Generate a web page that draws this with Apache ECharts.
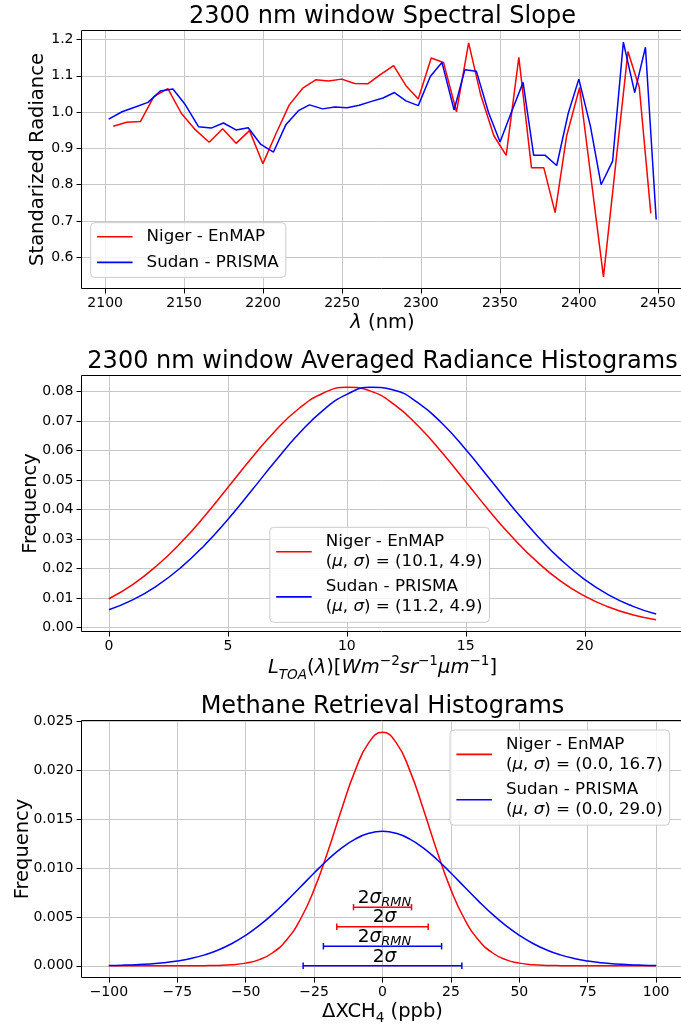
<!DOCTYPE html>
<html><head><meta charset="utf-8">
<script src="https://cdn.jsdelivr.net/npm/echarts@6/dist/echarts.min.js"></script>
<style>html,body{margin:0;padding:0;background:#fff}#c{width:681px;height:1027px}</style>
</head><body><div id="c"></div>
<script>
// ---------- Panel 1: spectral slope ----------
const nigerWl = [2105.1, 2113.6, 2122.3, 2130.8, 2139.7, 2148.2, 2157.2, 2165.9, 2174.4, 2182.9, 2191.4, 2199.9, 2208.3, 2216.6, 2225.1, 2233.3, 2241.5, 2249.8, 2258.0, 2266.3, 2274.5, 2282.7, 2290.5, 2298.3, 2306.5, 2314.3, 2322.5, 2330.2, 2338.0, 2346.2, 2354.0, 2362.0, 2370.0, 2377.8, 2385.0, 2392.3, 2400.5, 2415.6, 2431.1, 2438.3, 2445.6];
const nigerSlope = [0.961, 0.972, 0.974, 1.043, 1.065, 0.997, 0.951, 0.917, 0.954, 0.914, 0.949, 0.858, 0.942, 1.020, 1.066, 1.089, 1.086, 1.091, 1.079, 1.078, 1.104, 1.128, 1.073, 1.036, 1.149, 1.137, 1.001, 1.191, 1.045, 0.935, 0.881, 1.151, 0.847, 0.847, 0.723, 0.935, 1.068, 0.546, 1.167, 1.068, 0.721];
const sudanWl = [2102.2, 2110.7, 2119.1, 2127.1, 2134.9, 2142.9, 2150.7, 2159.1, 2167.1, 2174.9, 2182.9, 2190.6, 2198.6, 2206.6, 2214.4, 2222.4, 2229.4, 2237.7, 2245.4, 2253.2, 2260.9, 2268.2, 2276.0, 2283.2, 2290.5, 2298.3, 2306.0, 2313.3, 2321.0, 2327.8, 2335.1, 2342.8, 2350.1, 2357.4, 2364.7, 2371.4, 2378.7, 2386.0, 2393.3, 2400.0, 2407.3, 2414.1, 2421.4, 2428.2, 2435.4, 2442.2, 2449.0];
const sudanSlope = [0.981, 1.001, 1.014, 1.027, 1.058, 1.064, 1.021, 0.960, 0.956, 0.970, 0.951, 0.957, 0.911, 0.890, 0.965, 1.004, 1.020, 1.009, 1.014, 1.012, 1.019, 1.029, 1.039, 1.054, 1.031, 1.018, 1.099, 1.137, 1.006, 1.117, 1.113, 0.999, 0.918, 1.001, 1.082, 0.881, 0.881, 0.853, 0.997, 1.091, 0.962, 0.800, 0.865, 1.193, 1.054, 1.179, 0.704];
const slopeXTicks = [2100, 2150, 2200, 2250, 2300, 2350, 2400, 2450];
const slopeYTicks = [0.6, 0.7, 0.8, 0.9, 1.0, 1.1, 1.2];

// ---------- Panel 2: averaged radiance histograms ----------
const radX = [0, 1, 2, 3, 4, 5, 6, 7, 8, 9, 10, 11, 12, 13, 14, 15, 16, 17, 18, 19, 20, 21, 22, 23];
const radNiger = [0.0097, 0.0145, 0.0208, 0.0285, 0.0375, 0.0474, 0.0574, 0.0667, 0.0743, 0.0794, 0.0814, 0.0801, 0.0755, 0.0683, 0.0593, 0.0494, 0.0394, 0.0302, 0.0222, 0.0156, 0.0106, 0.0069, 0.0043, 0.0026];
const radSudan = [0.0060, 0.0093, 0.0140, 0.0201, 0.0277, 0.0366, 0.0464, 0.0564, 0.0658, 0.0736, 0.0790, 0.0814, 0.0804, 0.0761, 0.0692, 0.0603, 0.0504, 0.0404, 0.0311, 0.0229, 0.0162, 0.0110, 0.0072, 0.0045];
const radXTicks = [0, 5, 10, 15, 20];
const radYTicks = [0, 0.01, 0.02, 0.03, 0.04, 0.05, 0.06, 0.07, 0.08];

// ---------- Panel 3: methane retrieval histograms ----------
const ch4X = [-100, -95, -90, -85, -80, -75, -70, -65, -60, -55, -50, -45, -40, -35, -30, -25, -20, -15, -10, -5, 0, 5, 10, 15, 20, 25, 30, 35, 40, 45, 50, 55, 60, 65, 70, 75, 80, 85, 90, 95, 100];
const ch4Niger = [0, 0, 0, 0, 0, 0.000001, 0.000004, 0.000012, 0.000038, 0.000105, 0.00027, 0.00063, 0.00136, 0.00266, 0.00476, 0.00779, 0.01166, 0.01596, 0.01997, 0.02284, 0.02389, 0.02284, 0.01997, 0.01596, 0.01166, 0.00779, 0.00476, 0.00266, 0.00136, 0.00063, 0.00027, 0.000105, 0.000038, 0.000012, 0.000004, 0.000001, 0, 0, 0, 0, 0];
const ch4Sudan = [0.000036, 0.000064, 0.000111, 0.000188, 0.000306, 0.000485, 0.000747, 0.001116, 0.001618, 0.002278, 0.003112, 0.004127, 0.005314, 0.006641, 0.008057, 0.009488, 0.010845, 0.012034, 0.012963, 0.013554, 0.013757, 0.013554, 0.012963, 0.012034, 0.010845, 0.009488, 0.008057, 0.006641, 0.005314, 0.004127, 0.003112, 0.002278, 0.001618, 0.001116, 0.000747, 0.000485, 0.000306, 0.000188, 0.000111, 0.000064, 0.000036];
const ch4XTicks = [-100, -75, -50, -25, 0, 25, 50, 75, 100];
const ch4YTicks = [0, 0.005, 0.010, 0.015, 0.020, 0.025];
const errLabels = ['2σ_RMN', '2σ', '2σ_RMN', '2σ'];
const errLow = [-10.6, -16.7, -21.6, -29.0];
const errHigh = [10.6, 16.7, 21.6, 29.0];
const errY = [0.006, 0.004, 0.002, 0.0];
const errSeriesColor = ['#ff0000', '#ff0000', '#0000ff', '#0000ff'];

// ---------- styling ----------
const FONT = 'DejaVu Sans';
const RED = '#ff0000', BLUE = '#0000ff';
const GRID_COLOR = '#c8c8c8';
const zip = (a, b) => a.map((v, i) => [v, b[i]]);

const legendNames = {
  sN: 'Niger - EnMAP',
  sS: 'Sudan - PRISMA',
  rN: '{t|Niger - EnMAP}\n{t|(}{i|μ}{t|, }{i|σ}{t|) = (10.1, 4.9)}',
  rS: '{t|Sudan - PRISMA}\n{t|(}{i|μ}{t|, }{i|σ}{t|) = (11.2, 4.9)}',
  mN: '{t|Niger - EnMAP}\n{t|(}{i|μ}{t|, }{i|σ}{t|) = (0.0, 16.7)}',
  mS: '{t|Sudan - PRISMA}\n{t|(}{i|μ}{t|, }{i|σ}{t|) = (0.0, 29.0)}'
};
const LEG_FS = 16.7;
const legRich = {
  t: {fontSize: LEG_FS, fontFamily: FONT, color: '#000', lineHeight: 20.4},
  i: {fontSize: LEG_FS, fontFamily: FONT, color: '#000', lineHeight: 20.4, fontStyle: 'italic'}
};
function legend(names, left, top, gap, lh) {
  return {
    data: names, orient: 'vertical', left: left, top: top,
    itemWidth: 35.5, itemHeight: 1.6, icon: 'rect', itemGap: gap,
    padding: [4, 7, 5, 6.4], selectedMode: false,
    backgroundColor: 'rgba(255,255,255,0.8)', borderColor: '#cccccc', borderWidth: 1, borderRadius: 4,
    formatter: n => legendNames[n],
    textStyle: {fontSize: LEG_FS, fontFamily: FONT, color: '#000', padding: [0, 0, 0, 9], lineHeight: lh, rich: legRich}
  };
}

const nameRich = {
  r: {fontSize: 19.5, fontFamily: FONT, color: '#000', lineHeight: 28},
  i: {fontSize: 19.5, fontFamily: FONT, color: '#000', lineHeight: 28, fontStyle: 'italic'},
  sup: {fontSize: 13.6, fontFamily: FONT, color: '#000', lineHeight: 13, verticalAlign: 'top'},
  sub: {fontSize: 13.6, fontFamily: FONT, color: '#000', lineHeight: 11, verticalAlign: 'bottom'},
  subi: {fontSize: 13.6, fontFamily: FONT, color: '#000', lineHeight: 11, verticalAlign: 'bottom', fontStyle: 'italic'}
};

function splitL() {
  return {show: true, lineStyle: {color: GRID_COLOR, width: 1}};
}
function xAx(grid, min, max, step, ticks, fmt, name, gap) {
  return {
    type: 'value', gridIndex: grid, min: min, max: max, minInterval: step, maxInterval: step,
    axisLine: {show: false, onZero: false},
    axisTick: {show: true, length: 5, customValues: ticks, lineStyle: {color: '#000', width: 1}},
    axisLabel: {customValues: ticks, fontSize: 14, fontFamily: FONT, color: '#000', margin: 8, formatter: fmt},
    splitLine: splitL(),
    name: name, nameLocation: 'middle', nameGap: gap,
    nameTextStyle: {fontSize: 19.5, fontFamily: FONT, color: '#000', rich: nameRich}
  };
}
function yAx(grid, min, max, step, ticks, fmt, name, gap) {
  return {
    type: 'value', gridIndex: grid, min: min, max: max, minInterval: step, maxInterval: step,
    axisLine: {show: false, onZero: false},
    axisTick: {show: true, length: 5, customValues: ticks, lineStyle: {color: '#000', width: 1}},
    axisLabel: {customValues: ticks, fontSize: 14, fontFamily: FONT, color: '#000', margin: 8, formatter: fmt},
    splitLine: splitL(),
    name: name, nameLocation: 'middle', nameGap: gap, nameMoveOverlap: false,
    nameTextStyle: {fontSize: 19.5, fontFamily: FONT, color: '#000'}
  };
}
const minus = v => (v < 0 ? '−' + Math.abs(v) : String(v));
const gridBase = {left: 81.5, width: 602, show: true, borderColor: '#000', borderWidth: 1, backgroundColor: 'transparent', outerBoundsMode: 'none', containLabel: false, z: 10};
const titleStyle = {fontSize: 24, fontWeight: 'normal', fontFamily: FONT, color: '#000'};
const AX_CX = 81.5 + 602 / 2;

const errRich = {
  n: {fontSize: 18.5, fontFamily: FONT, color: '#000', lineHeight: 22},
  i: {fontSize: 18.5, fontFamily: FONT, color: '#000', lineHeight: 22, fontStyle: 'italic'},
  sub: {fontSize: 13, fontFamily: FONT, color: '#000', lineHeight: 14, verticalAlign: 'bottom', fontStyle: 'italic'}
};
const errText = s => s === '2σ_RMN' ? '{n|2}{i|σ}{sub|RMN}' : '{n|2}{i|σ}';

const lineS = (name, xi, data, color, smooth) => ({
  type: 'line', name: name, xAxisIndex: xi, yAxisIndex: xi, data: data,
  showSymbol: false, symbol: 'none', smooth: smooth,
  color: color, lineStyle: {color: color, width: 1.5}, itemStyle: {color: color}, z: 3
});

const option = {
  animation: false,
  backgroundColor: '#ffffff',
  textStyle: {fontFamily: FONT},
  title: [
    {text: '2300 nm window Spectral Slope', left: AX_CX, textAlign: 'center', top: 5, padding: 0, textStyle: titleStyle},
    {text: '2300 nm window Averaged Radiance Histograms', left: AX_CX, textAlign: 'center', top: 350, padding: 0, textStyle: titleStyle},
    {text: 'Methane Retrieval Histograms', left: AX_CX, textAlign: 'center', top: 695, padding: 0, textStyle: titleStyle}
  ],
  legend: [
    legend(['sN', 'sS'], 90.7, 222.7, 5.7, 20),
    legend(['rN', 'rS'], 269.8, 527.3, 4.4, 20.4),
    legend(['mN', 'mS'], 450, 730, 4.6, 20.4)
  ],
  grid: [
    Object.assign({}, gridBase, {top: 30.5, height: 258}),
    Object.assign({}, gridBase, {top: 375.5, height: 256}),
    Object.assign({}, gridBase, {top: 720.5, height: 257})
  ],
  xAxis: [
    xAx(0, 2085, 2466.3, 50, slopeXTicks, v => String(v), '{i|λ}{r| (nm)}', 20),
    xAx(1, -1.15, 24.15, 5, radXTicks, v => String(v), '{i|L}{subi|TOA}{r|(}{i|λ}{r|)[}{i|Wm}{sup|−2}{i|sr}{sup|−1}{i|μm}{sup|−1}{r|]}', 17),
    xAx(2, -110, 110, 25, ch4XTicks, minus, '{r|ΔXCH}{sub|4}{r| (ppb)}', 20)
  ],
  yAxis: [
    yAx(0, 0.514, 1.225, 0.1, slopeYTicks, v => v.toFixed(1), 'Standarized Radiance', 34),
    yAx(1, -0.0014, 0.0854, 0.01, radYTicks, v => v.toFixed(2), 'Frequency', 40.5),
    yAx(2, -0.0012, 0.0251, 0.005, ch4YTicks, v => v.toFixed(3), 'Frequency', 48.5)
  ],
  series: [
    lineS('sN', 0, zip(nigerWl, nigerSlope), RED, false),
    lineS('sS', 0, zip(sudanWl, sudanSlope), BLUE, false),
    lineS('rN', 1, zip(radX, radNiger), RED, 0.5),
    lineS('rS', 1, zip(radX, radSudan), BLUE, 0.5),
    lineS('mN', 2, zip(ch4X, ch4Niger), RED, 0.5),
    lineS('mS', 2, zip(ch4X, ch4Sudan), BLUE, 0.5),
    {
      type: 'custom', name: 'errbars', xAxisIndex: 2, yAxisIndex: 2, z: 5,
      encode: {x: [0, 1], y: 2},
      data: errLow.map((lo, i) => [lo, errHigh[i], errY[i], i]),
      renderItem: function (params, api) {
        const i = params.dataIndex;
        const lo = api.coord([api.value(0), api.value(2)]);
        const hi = api.coord([api.value(1), api.value(2)]);
        const mid = api.coord([0, api.value(2)]);
        const c = errSeriesColor[i];
        const cap = 3.2;
        const st = {stroke: c, lineWidth: 1.5};
        return {type: 'group', children: [
          {type: 'line', shape: {x1: lo[0], y1: lo[1], x2: hi[0], y2: hi[1]}, style: st},
          {type: 'line', shape: {x1: lo[0], y1: lo[1] - cap, x2: lo[0], y2: lo[1] + cap}, style: st},
          {type: 'line', shape: {x1: hi[0], y1: hi[1] - cap, x2: hi[0], y2: hi[1] + cap}, style: st},
          {type: 'text', x: mid[0] + 2, y: lo[1] + 2, style: {text: errText(errLabels[i]), rich: errRich, align: 'center', verticalAlign: 'bottom', fill: '#000'}}
        ]};
      }
    }
  ]
};
const chart = echarts.init(document.getElementById('c'), null, {renderer: 'canvas'});
chart.setOption(option);
</script>
</body></html>
